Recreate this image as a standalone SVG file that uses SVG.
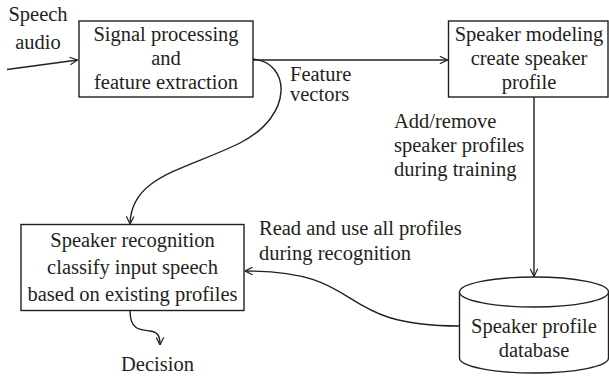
<svg xmlns="http://www.w3.org/2000/svg" width="609" height="376" viewBox="0 0 609 376">
<style>
text{font-family:"Liberation Serif","Times New Roman",serif;font-size:20.5px;fill:#231f20}
.c{text-anchor:middle}
.box{fill:#fff;stroke:#231f20;stroke-width:1.4}
.ln{fill:none;stroke:#231f20;stroke-width:1.4}
</style>
<defs>
<marker id="ah" viewBox="0 0 10 10" refX="9.5" refY="5" markerWidth="9" markerHeight="9" markerUnits="userSpaceOnUse" orient="auto">
<path d="M1,0.8 L9.5,5 L1,9.2" fill="none" stroke="#231f20" stroke-width="1.3"/>
</marker>
</defs>
<rect width="609" height="376" fill="#fff"/>
<g id="connectors">
<path class="ln" d="M7,69.5 L77.5,60" marker-end="url(#ah)"/>
<path class="ln" d="M253,60 L447.5,60" marker-end="url(#ah)"/>
<path class="ln" d="M253,59 C290,62 295,115 240,143 C185,170 131,176 130,224" marker-end="url(#ah)"/>
<path class="ln" d="M534,97 L534,276.5" marker-end="url(#ah)"/>
<path class="ln" d="M459.5,326 C330,326 370,271 245,271" marker-end="url(#ah)"/>
<path class="ln" d="M130,310.5 C130,330 140,330 150,331 C158,332 160,336 160,345" marker-end="url(#ah)"/>
</g>
<g id="label-speech-audio">
<text class="c" x="38" y="21">Speech</text>
<text class="c" x="38" y="49">audio</text>
</g>
<g id="label-feature-vectors">
<text x="290" y="81">Feature</text>
<text x="290" y="101">vectors</text>
</g>
<g id="label-add-remove">
<text x="394" y="128">Add/remove</text>
<text x="394" y="152">speaker profiles</text>
<text x="394" y="176">during training</text>
</g>
<g id="label-read-use">
<text x="259" y="235">Read and use all profiles</text>
<text x="259" y="260">during recognition</text>
</g>
<g id="node-signal">
<rect class="box" x="79" y="21" width="174" height="76"/>
<text class="c" x="166" y="41">Signal processing</text>
<text class="c" x="166" y="65">and</text>
<text class="c" x="166" y="89">feature extraction</text>
</g>
<g id="node-modeling">
<rect class="box" x="448.5" y="21" width="159.5" height="76"/>
<text class="c" x="529" y="41">Speaker modeling</text>
<text class="c" x="529" y="65">create speaker</text>
<text class="c" x="529" y="89">profile</text>
</g>
<g id="node-recognition">
<rect class="box" x="21" y="224.5" width="223" height="86"/>
<text class="c" x="132.5" y="247">Speaker recognition</text>
<text class="c" x="132.5" y="274">classify input speech</text>
<text class="c" x="132.5" y="301">based on existing profiles</text>
</g>
<g id="node-database">
<path class="box" d="M459.5,292 L459.5,358 A74.5,15 0 0 0 608.5,358 L608.5,292"/>
<ellipse class="box" cx="534" cy="292" rx="74.5" ry="15"/>
<text class="c" x="534" y="333">Speaker profile</text>
<text class="c" x="534" y="357">database</text>
</g>
<g id="label-decision">
<text class="c" x="157.5" y="371">Decision</text>
</g>
</svg>
